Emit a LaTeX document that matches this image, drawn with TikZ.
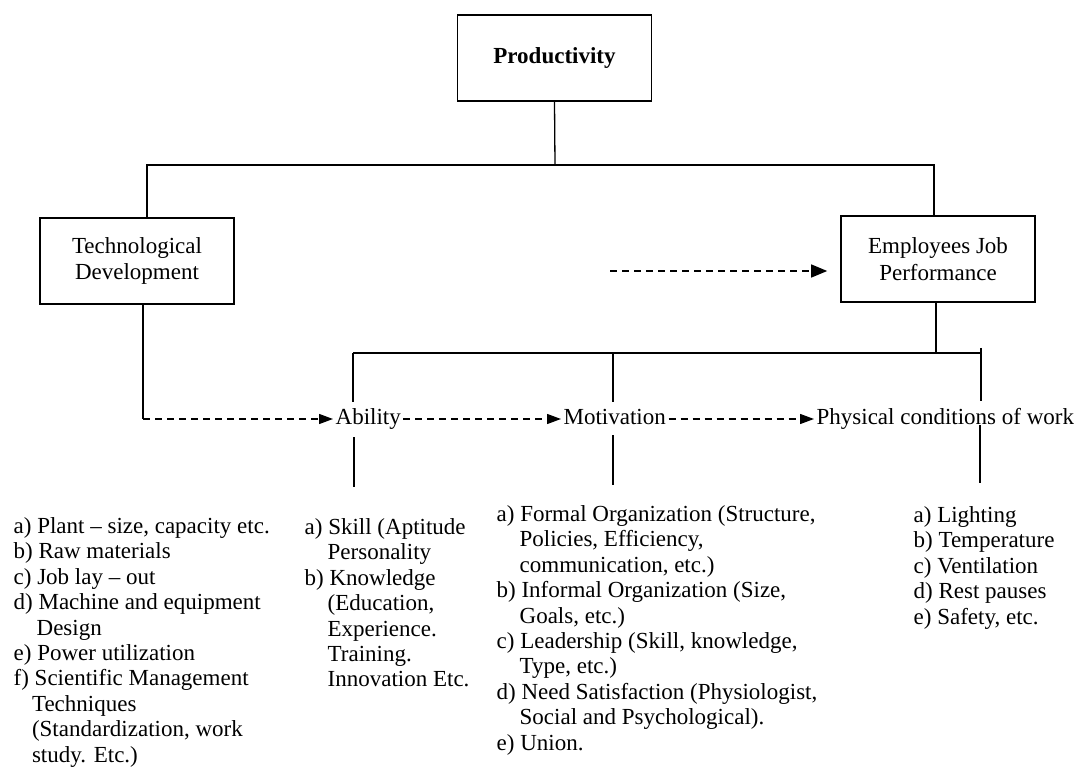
\documentclass[tikz,border=0pt]{standalone}
\usepackage{fontspec}
\setmainfont{Liberation Serif}
\usepackage{tikz}
\usetikzlibrary{arrows.meta,positioning}

\newcommand{\hang}{\hspace*{1em}}

\begin{document}
\begin{tikzpicture}[x=1pt, y=-1pt, line width=1.3pt,
    font=\fontsize{23}{25.4}\selectfont,
    box/.style={draw, line width=1.6pt, minimum width=194pt, minimum height=86pt,
      align=center, font=\fontsize{23}{26.5}\selectfont},
    rowlbl/.style={inner xsep=2pt, inner ysep=0pt, text height=16pt, text depth=5pt},
    factlist/.style={anchor=north west, inner sep=0pt, align=left},
    dashline/.style={dash pattern=on 7pt off 5pt},
    arr/.style={-{Triangle[length=14pt,width=10pt]}}]

  \useasboundingbox (0,0) rectangle (1077,767);

  % boxes
  \node[box] (prod) at (554.5,58) {\textbf{Productivity}};
  \node[box] (tech) at (137,261) {Technological\\Development};
  \node[box] (emp) at (938,259) {Employees Job\\Performance};

  % tree under productivity
  \coordinate (split) at (555,165);
  \draw (prod.south) -- (split);
  \draw ([xshift=10pt]tech.north) |- (split) -| ([xshift=-4pt]emp.north);

  % the row of factors
  \node[rowlbl, anchor=west] (ability) at (333,419) {Ability};
  \node[rowlbl, anchor=west] (motiv) at (561,419) {Motivation};
  \node[rowlbl, anchor=west] (phys) at (814,419) {Physical conditions of work};

  \coordinate (tdturn) at (143,419);
  \draw ([xshift=6pt]tech.south) -- (tdturn);
  \draw[dashline, arr] (tdturn) -- (ability);
  \draw[dashline, arr] (ability) -- (motiv);
  \draw[dashline, arr] (motiv) -- (phys);

  % dashed arrow into the performance box
  \coordinate (perfin) at (610,271);
  \draw[dashline, -{Triangle[length=16pt,width=13pt]}, shorten >=13pt]
    (perfin) -- (perfin -| emp.west);

  % branches under the performance box
  \coordinate (busL) at (353,353);
  \coordinate (busM) at (613,353);
  \coordinate (busR) at (981,353);
  \draw ([xshift=-2pt]emp.south) -- ([xshift=-2pt]emp.south |- busL);
  \draw (busL) -- (busR);
  \draw[shorten >=6pt] (busL) -- (busL |- ability.north);
  \draw[shorten >=6pt] (busM) -- (busM |- motiv.north);
  \draw[shorten >=7pt] ([yshift=5pt]busR) -- (busR |- phys.north);

  % stems down to the lists
  \coordinate (abilityend) at (354,487);
  \coordinate (motivend) at (613,485);
  \coordinate (physend) at (980,483);
  \draw[shorten <=7pt] (ability.south -| abilityend) -- (abilityend);
  \draw[shorten <=5pt] (motiv.south -| motivend) -- (motivend);
  \draw[shorten <=-5pt] (phys.south -| physend) -- (physend);

  % lists
  \node[factlist] (techlist) at (13,515) {\strut a) Plant -- size, capacity etc.\\
    b) Raw materials\\
    c) Job lay -- out\\
    d) Machine and equipment\\
    \hang Design\\
    e) Power utilization\\
    f) Scientific Management\\
    \hspace*{0.8em}Techniques\\
    \hspace*{0.8em}(Standardization, work\\
    \hspace*{0.8em}study. Etc.)};
  \node[factlist] (abilitylist) at (304,516) {\strut a) Skill (Aptitude\\
    \hang Personality\\
    b) Knowledge\\
    \hang (Education,\\
    \hang Experience.\\
    \hang Training.\\
    \hang Innovation Etc.};
  \node[factlist] (motivlist) at (496,503) {\strut a) Formal Organization (Structure,\\
    \hang Policies, Efficiency,\\
    \hang communication, etc.)\\
    b) Informal Organization (Size,\\
    \hang Goals, etc.)\\
    c) Leadership (Skill, knowledge,\\
    \hang Type, etc.)\\
    d) Need Satisfaction (Physiologist,\\
    \hang Social and Psychological).\\
    e) Union.};
  \node[factlist] (physlist) at (913,504) {\strut a) Lighting\\
    b) Temperature\\
    c) Ventilation\\
    d) Rest pauses\\
    e) Safety, etc.};
\end{tikzpicture}
\end{document}
